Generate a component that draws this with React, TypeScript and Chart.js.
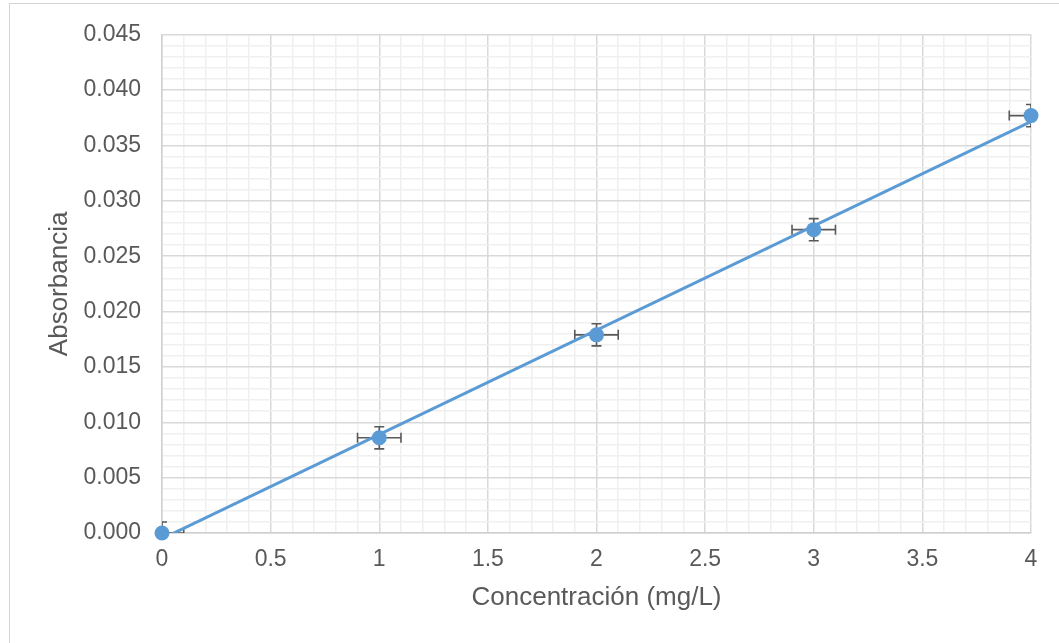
import React, { useEffect, useRef } from "react";
import { Chart, registerables } from "chart.js";

Chart.register(...registerables);

const concentrations = [0, 1, 2, 3, 4];
const absorbances = [0, 0.0086, 0.0179, 0.0274, 0.0377];
const xErrors = [0.1, 0.1, 0.1, 0.1, 0.1];
const yErrors = [0.001, 0.001, 0.001, 0.001, 0.001];
const xTitle = "Concentración (mg/L)";
const yTitle = "Absorbancia";

const FONT = "'Liberation Sans', Arial, sans-serif";
const BLUE = "#5b9bd5";
const TEXT = "#595959";

function fitLine(xs: number[], ys: number[]) {
  const n = xs.length;
  const mx = xs.reduce((a, b) => a + b, 0) / n;
  const my = ys.reduce((a, b) => a + b, 0) / n;
  let num = 0;
  let den = 0;
  for (let i = 0; i < n; i++) {
    num += (xs[i] - mx) * (ys[i] - my);
    den += (xs[i] - mx) * (xs[i] - mx);
  }
  const slope = num / den;
  const intercept = my - slope * mx;
  return { slope, intercept };
}

const errorBarPlugin = {
  id: "errorBars",
  beforeDatasetsDraw(chart: any) {
    const { ctx, chartArea, scales } = chart;
    const xs = scales.x;
    const ys = scales.y;
    ctx.save();
    ctx.beginPath();
    ctx.rect(chartArea.left, chartArea.top, chartArea.right - chartArea.left, chartArea.bottom - chartArea.top);
    ctx.clip();
    ctx.strokeStyle = "#595959";
    ctx.lineWidth = 1.6;
    const cap = 5;
    for (let i = 0; i < concentrations.length; i++) {
      const cx = xs.getPixelForValue(concentrations[i]);
      const cy = ys.getPixelForValue(absorbances[i]);
      const x1 = xs.getPixelForValue(concentrations[i] - xErrors[i]);
      const x2 = xs.getPixelForValue(concentrations[i] + xErrors[i]);
      const y1 = ys.getPixelForValue(absorbances[i] - yErrors[i]);
      const y2 = ys.getPixelForValue(absorbances[i] + yErrors[i]);
      ctx.beginPath();
      ctx.moveTo(x1, cy);
      ctx.lineTo(x2, cy);
      ctx.moveTo(x1, cy - cap);
      ctx.lineTo(x1, cy + cap);
      ctx.moveTo(x2, cy - cap);
      ctx.lineTo(x2, cy + cap);
      ctx.moveTo(cx, y1);
      ctx.lineTo(cx, y2);
      ctx.moveTo(cx - cap, y1);
      ctx.lineTo(cx + cap, y1);
      ctx.moveTo(cx - cap, y2);
      ctx.lineTo(cx + cap, y2);
      ctx.stroke();
    }
    ctx.restore();
  },
};

export default function App() {
  const ref = useRef<HTMLCanvasElement | null>(null);

  useEffect(() => {
    if (!ref.current) return;
    const { slope, intercept } = fitLine(concentrations, absorbances);
    const xMin = concentrations[0];
    const xMax = concentrations[concentrations.length - 1];
    const chart = new Chart(ref.current, {
      type: "scatter",
      data: {
        datasets: [
          {
            label: "Datos",
            data: concentrations.map((x, i) => ({ x, y: absorbances[i] })),
            showLine: false,
            clip: false,
            pointRadius: 7.5,
            pointBackgroundColor: BLUE,
            pointBorderColor: BLUE,
            pointBorderWidth: 0,
          },
          {
            label: "Tendencia",
            data: [
              { x: xMin, y: intercept + slope * xMin },
              { x: xMax, y: intercept + slope * xMax },
            ],
            showLine: true,
            borderColor: BLUE,
            borderWidth: 3,
            pointRadius: 0,
          },
        ],
      },
      options: {
        animation: false,
        responsive: false,
        devicePixelRatio: 1,
        layout: { padding: { left: 40, top: 33, right: 28, bottom: 26 } },
        plugins: { legend: { display: false }, tooltip: { enabled: false } },
        scales: {
          x: {
            type: "linear",
            min: 0,
            max: 4,
            afterFit: (s: any) => {
              s.height = 84;
            },
            border: { color: "#d0d0d0", width: 1.5 },
            grid: {
              drawTicks: false,
              lineWidth: 1.5,
              color: (c: any) => {
                const v = Math.round(c.tick.value * 10);
                return v % 5 === 0 ? "#d9d9d9" : "#f0f0f0";
              },
            },
            ticks: {
              stepSize: 0.1,
              autoSkip: false,
              maxRotation: 0,
              padding: 13,
              color: TEXT,
              font: { family: FONT, size: 23 },
              callback: (v: any) => {
                const t = Math.round(Number(v) * 10);
                if (t % 5 !== 0) return "";
                return String(t / 10);
              },
            },
            title: {
              display: true,
              text: xTitle,
              color: TEXT,
              font: { family: FONT, size: 26 },
              padding: { top: 4, bottom: 4 },
            },
          },
          y: {
            type: "linear",
            min: 0,
            max: 0.045,
            afterFit: (s: any) => {
              s.width = 122;
            },
            border: { color: "#d0d0d0", width: 1.5 },
            grid: {
              drawTicks: false,
              lineWidth: 1.5,
              color: (c: any) => {
                const v = Math.round(c.tick.value * 1000);
                return v % 5 === 0 ? "#d9d9d9" : "#f0f0f0";
              },
            },
            ticks: {
              stepSize: 0.001,
              autoSkip: false,
              padding: 21,
              color: TEXT,
              font: { family: FONT, size: 23 },
              callback: (v: any) => {
                const t = Math.round(Number(v) * 1000);
                if (t % 5 !== 0) return "";
                return (t / 1000).toFixed(3);
              },
            },
            title: {
              display: true,
              text: yTitle,
              color: TEXT,
              font: { family: FONT, size: 26 },
              padding: { top: 4, bottom: 4 },
            },
          },
        },
      },
      plugins: [errorBarPlugin],
    } as any);
    return () => chart.destroy();
  }, []);

  return (
    <div
      style={{
        position: "fixed",
        left: 0,
        top: 0,
        width: 1059,
        height: 643,
        overflow: "hidden",
        background: "#ffffff",
      }}
    >
      <div
        style={{
          position: "absolute",
          left: 9,
          top: 3,
          width: 1200,
          height: 800,
          border: "1px solid #d4d4d4",
        }}
      />
      <canvas
        ref={ref}
        width={1059}
        height={643}
        style={{ position: "absolute", left: 0, top: 0, width: 1059, height: 643 }}
      />
    </div>
  );
}
